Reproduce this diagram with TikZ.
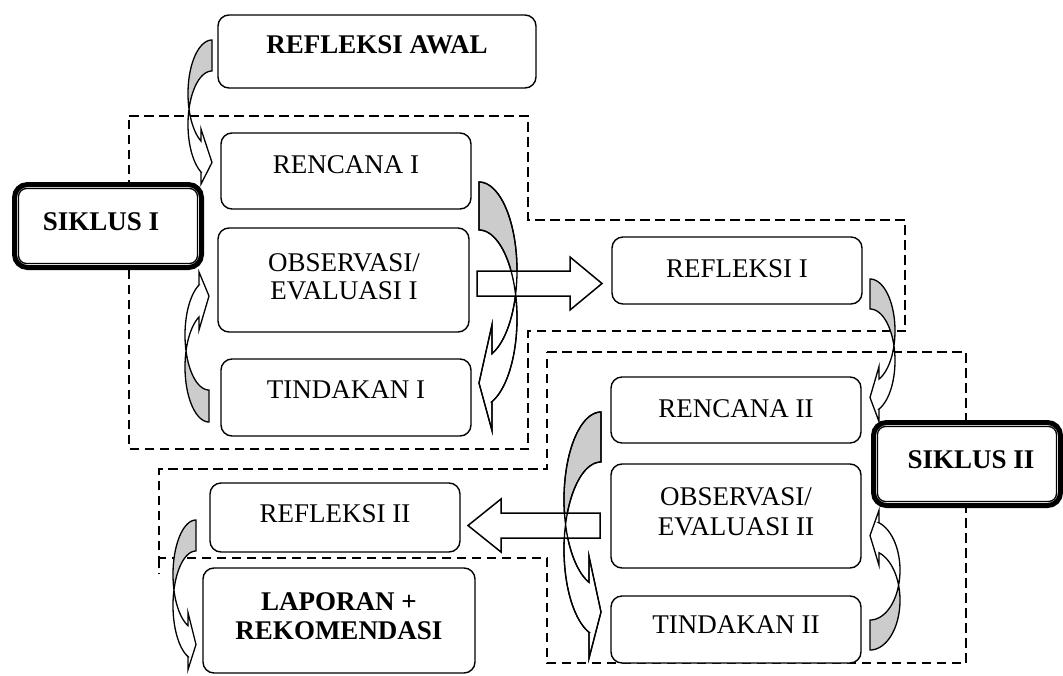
\documentclass[tikz,border=0pt]{standalone}
\usepackage{fontspec}
\setmainfont{Liberation Serif}
\usetikzlibrary{calc}
\def\wcmode{0}
% Word-style curved arrow: #1 xscale (1 curve on left / -1 curve on right), #2 yscale (1 tail on top / -1 tail at bottom)
% #3 left, #4 top, #5 width, #6 height, #7 band thickness, #8 head width, #9 head length
\newcommand{\wcarrow}[9]{%
  \pgfmathsetmacro\wqW{#5}%
  \pgfmathsetmacro\wqH{#6}%
  \pgfmathsetmacro\wqT{#7}%
  \pgfmathsetmacro\wqA{#8}%
  \pgfmathsetmacro\wqK{#9}%
  \pgfmathsetmacro\wqR{(\wqH-(\wqT+\wqA)/2)/2}%
  \pgfmathsetmacro\wqD{(\wqA-\wqT)/2}%
  \pgfmathsetmacro\wqAl{acos(\wqK/\wqW)}%
  \pgfmathsetmacro\wqBe{asin(\wqT/(2*\wqR))}%
  \pgfmathsetmacro\wqYf{\wqR+\wqR*sin(\wqAl)}%
  \pgfmathsetmacro\wqYa{\wqYf-\wqD}%
  \pgfmathsetmacro\wqYs{\wqYf+\wqT}%
  \pgfmathsetmacro\wqYe{\wqYs+\wqD}%
  \pgfmathsetmacro\wqYx{\wqH-\wqA/2}%
  \pgfmathsetmacro\wqXa{\wqW-\wqK}%
  \pgfmathsetmacro\wqXo{#3+(1-(#1))/2*\wqW}%
  \pgfmathsetmacro\wqYo{#4+(1-(#2))/2*\wqH}%
  \begin{scope}[shift={(\wqXo,\wqYo)},xscale=#1,yscale=#2]
    \ifnum\wcmode=0
    \fill[backfill] plot[variable=\q,domain=0:1,samples=40]
        ({\wqW+\wqW*cos(270-(90+\wqBe)*\q)},{\wqR+\wqR*sin(270-(90+\wqBe)*\q)})
      -- plot[variable=\q,domain=0:1,samples=40]
        ({\wqW+\wqW*cos(180+\wqBe+(90-\wqBe)*\q)},{\wqR+\wqT+\wqR*sin(180+\wqBe+(90-\wqBe)*\q)})
      -- cycle;
    \fill[frontfill] plot[variable=\q,domain=0:1,samples=40]
        ({\wqW+\wqW*cos(180-\wqBe-(\wqAl-\wqBe)*\q)},{\wqR+\wqR*sin(180-\wqBe-(\wqAl-\wqBe)*\q)})
      -- (\wqXa,\wqYa) -- (\wqW,\wqYx) -- (\wqXa,\wqYe) -- (\wqXa,\wqYs)
      -- plot[variable=\q,domain=0:1,samples=40]
        ({\wqW+\wqW*cos(180-\wqAl+(\wqAl+\wqBe)*\q)},{\wqR+\wqT+\wqR*sin(180-\wqAl+(\wqAl+\wqBe)*\q)})
      -- cycle;
    \fi
    \draw[curveline] plot[variable=\q,domain=0:1,samples=60]
        ({\wqW+\wqW*cos(270-(90+\wqAl)*\q)},{\wqR+\wqR*sin(270-(90+\wqAl)*\q)})
      -- (\wqXa,\wqYa) -- (\wqW,\wqYx) -- (\wqXa,\wqYe) -- (\wqXa,\wqYs)
      -- plot[variable=\q,domain=0:1,samples=60]
        ({\wqW+\wqW*cos(180-\wqAl+(90+\wqAl)*\q)},{\wqR+\wqT+\wqR*sin(180-\wqAl+(90+\wqAl)*\q)})
      -- cycle;
  \end{scope}}
\begin{document}
\begin{tikzpicture}[x=1pt,y=-1pt,
  box/.style={draw, line width=1.4pt, rounded corners=11pt, fill=white, inner sep=0pt},
  siklus/.style={draw, line width=5pt, rounded corners=13pt, fill=white, inner sep=0pt, minimum width=187pt, minimum height=83pt},
  lbl/.style={font=\fontsize{27}{30}\selectfont, inner sep=0pt, anchor=base},
  blbl/.style={font=\fontsize{27}{30}\selectfont\bfseries, inner sep=0pt, anchor=base},
  zone/.style={draw, line width=2.6pt, dash pattern=on 9.5pt off 5.5pt},
  backfill/.style={fill=black!20},
  frontfill/.style={fill=white},
  curveline/.style={draw, line width=1.3pt, line join=miter},
  blockarrow/.style={line width=1.5pt, line join=miter}]

\useasboundingbox (0,0) rectangle (1063,675);

% dashed cycle regions
\draw[zone] (129,116) -- (528,116) -- (528,220) -- (905,220) -- (905,331) -- (528,331) -- (528,449) -- (129,449) -- cycle;
\draw[zone] (547,352) -- (966,352) -- (966,663) -- (547,663) -- (547,558) -- (159,558) -- (159,469) -- (547,469) -- cycle;
\draw[zone] (159,558) -- (159,574);

% boxes
\node[box, minimum width=318pt, minimum height=73pt] (rawal) at (377,51.5) {};
\node[box, minimum width=250pt, minimum height=76pt] (ren1) at (346,171) {};
\node[box, minimum width=251pt, minimum height=104pt] (obs1) at (343.5,280) {};
\node[box, minimum width=250pt, minimum height=77pt] (tin1) at (346,397.5) {};
\node[box, minimum width=250pt, minimum height=67pt] (ref1) at (737,270.5) {};
\node[box, minimum width=250pt, minimum height=66pt] (ren2) at (736,410) {};
\node[box, minimum width=250pt, minimum height=104pt] (obs2) at (736,516) {};
\node[box, minimum width=250pt, minimum height=67pt] (tin2) at (736,629.5) {};
\node[box, minimum width=250pt, minimum height=69pt] (ref2) at (335,517.5) {};
\node[box, minimum width=272pt, minimum height=105pt] (lap) at (339,620.5) {};

% curved arrows
\wcarrow{1}{1}{188}{40}{24}{150}{31}{55}{11}
\wcarrow{1}{-1}{185}{267}{24}{155}{32}{58}{10}
\wcarrow{-1}{1}{479}{182}{38}{254}{48}{106}{13}
\wcarrow{-1}{1}{870}{279}{25}{146}{30}{55}{9}
\wcarrow{-1}{-1}{870}{508}{30}{142}{30}{55}{9}
\wcarrow{1}{1}{564}{412}{37}{251}{50}{102}{12}
\wcarrow{1}{1}{173}{520}{23}{153}{31}{57}{8}

% block arrows (fill)
\fill[white] (477,271) -- (570,271) -- (570,257) -- (602,283.5) -- (570,310) -- (570,296) -- (477,296) -- cycle;
\fill[white] (600,513) -- (501,513) -- (501,499) -- (468,525.5) -- (501,552) -- (501,538) -- (600,538) -- cycle;
% curved arrow outlines visible through the block arrows
\def\wcmode{1}
\wcarrow{-1}{1}{479}{182}{38}{254}{48}{106}{13}
\wcarrow{1}{1}{564}{412}{37}{251}{50}{102}{12}
\def\wcmode{0}
% block arrows (outline)
\draw[blockarrow] (477,271) -- (570,271) -- (570,257) -- (602,283.5) -- (570,310) -- (570,296) -- (477,296) -- cycle;
\draw[blockarrow] (600,513) -- (501,513) -- (501,499) -- (468,525.5) -- (501,552) -- (501,538) -- (600,538) -- cycle;

% siklus boxes (double border)
\node[siklus] (sik1) at (108,226) {};
\draw[line width=1.3pt, rounded corners=8pt] ($(sik1.north west)+(6.5,6.5)$) rectangle ($(sik1.south east)+(-6.5,-6.5)$);
\node[siklus] (sik2) at (967,464) {};
\draw[line width=1.3pt, rounded corners=8pt] ($(sik2.north west)+(6.5,6.5)$) rectangle ($(sik2.south east)+(-6.5,-6.5)$);

% texts
\node[blbl] (rawal-t) at (377,53) {REFLEKSI AWAL};
\node[lbl] (ren1-t) at (346,173) {RENCANA I};
\node[lbl] (obs1-a) at (344,271) {OBSERVASI/};
\node[lbl] (obs1-b) at (344,299) {EVALUASI I};
\node[lbl] (tin1-t) at (346,398) {TINDAKAN I};
\node[blbl] (sik1-t) at (101,230) {SIKLUS I};
\node[lbl] (ref1-t) at (737,277) {REFLEKSI I};
\node[lbl] (ren2-t) at (736,417) {RENCANA II};
\node[lbl] (obs2-a) at (736,505) {OBSERVASI/};
\node[lbl] (obs2-b) at (736,535) {EVALUASI II};
\node[lbl] (tin2-t) at (736,633) {TINDAKAN II};
\node[blbl] (sik2-t) at (971,468) {SIKLUS II};
\node[lbl] (ref2-t) at (335,522) {REFLEKSI II};
\node[blbl] (lap-a) at (339,610) {LAPORAN +};
\node[blbl] (lap-b) at (339,639) {REKOMENDASI};
\end{tikzpicture}
\end{document}
